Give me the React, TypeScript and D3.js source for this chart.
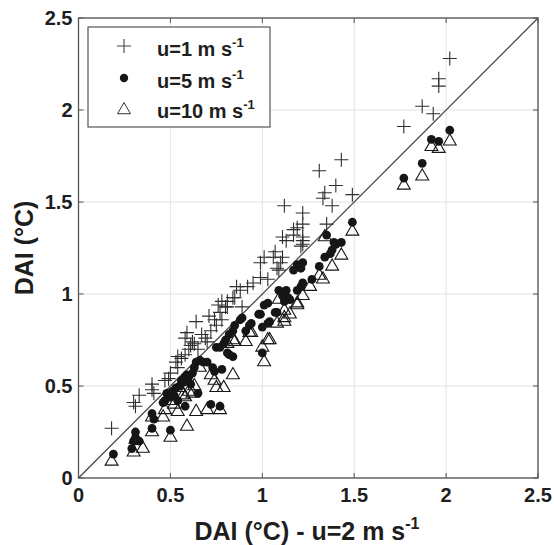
import React from 'react';
import * as d3 from 'd3';

const tickValues = [0, 0.5, 1, 1.5, 2, 2.5];
const tickLabels = ['0', '0.5', '1', '1.5', '2', '2.5'];

const seriesNames = ['u=1 m s', 'u=5 m s', 'u=10 m s'];

// u = 1 m s-1 (plus)
const u1X = [0.18, 0.30, 0.31, 0.33, 0.40, 0.41, 0.47, 0.49, 0.53, 0.54, 0.59, 0.58, 0.64, 0.69, 0.70, 0.65, 0.62, 0.75, 0.78, 0.77, 0.76, 0.78, 0.81, 0.89, 0.85, 0.86, 0.92, 0.95, 0.99, 1.03, 1.08, 1.01, 1.06, 1.11, 1.07, 1.11, 1.17, 1.22, 1.22, 1.19, 1.22, 1.22, 1.12, 1.38, 1.35, 1.49, 1.33, 1.34, 1.40, 1.31, 1.43, 1.77, 1.87, 1.93, 1.96, 1.96, 2.02, 0.61, 0.54, 0.58, 0.50, 0.99, 1.10, 1.09, 1.13, 1.21, 0.80, 0.84, 0.40, 0.81, 0.88, 1.17, 1.22, 0.56, 0.60, 0.63, 0.67, 0.72, 0.71, 0.74];
const u1Y = [0.27, 0.41, 0.39, 0.45, 0.48, 0.46, 0.53, 0.54, 0.63, 0.60, 0.79, 0.76, 0.85, 0.76, 0.74, 0.70, 0.74, 0.83, 0.86, 0.90, 0.94, 0.96, 0.93, 0.93, 0.98, 1.04, 1.04, 1.06, 1.09, 1.08, 1.14, 1.20, 1.20, 1.20, 1.23, 1.31, 1.32, 1.29, 1.27, 1.36, 1.38, 1.44, 1.48, 1.48, 1.38, 1.54, 1.52, 1.55, 1.59, 1.67, 1.73, 1.91, 2.02, 1.98, 2.13, 2.17, 2.28, 0.72, 0.66, 0.67, 0.57, 1.17, 1.17, 1.13, 1.29, 1.26, 0.93, 0.98, 0.51, 0.96, 1.02, 1.35, 1.31, 0.65, 0.70, 0.73, 0.78, 0.80, 0.88, 0.86];

// u = 5 m s-1 (dot)
const u5X = [0.19, 0.29, 0.30, 0.31, 0.33, 0.40, 0.41, 0.40, 0.50, 0.46, 0.48, 0.51, 0.54, 0.58, 0.53, 0.56, 0.59, 0.61, 0.65, 0.64, 0.66, 0.68, 0.70, 0.73, 0.74, 0.78, 0.72, 0.77, 0.75, 0.79, 0.80, 0.81, 0.82, 0.84, 0.84, 0.89, 0.91, 0.94, 0.99, 1.00, 1.04, 1.08, 1.03, 1.09, 1.11, 1.13, 1.15, 1.12, 1.19, 1.21, 1.27, 1.22, 1.17, 1.21, 1.19, 1.22, 1.31, 1.34, 1.37, 1.38, 1.40, 1.43, 1.35, 1.49, 1.39, 1.77, 1.87, 1.92, 1.96, 2.02, 1.03, 1.00, 0.93, 0.88, 0.85, 0.82, 0.77, 1.07, 1.01, 0.98, 1.14, 0.58, 0.47, 0.31, 0.55, 0.57, 0.60, 0.62, 0.63, 0.52, 0.50];
const u5Y = [0.13, 0.16, 0.20, 0.25, 0.20, 0.35, 0.32, 0.27, 0.26, 0.41, 0.46, 0.47, 0.42, 0.39, 0.49, 0.53, 0.56, 0.51, 0.46, 0.63, 0.64, 0.63, 0.63, 0.60, 0.58, 0.59, 0.40, 0.39, 0.71, 0.73, 0.75, 0.68, 0.67, 0.66, 0.80, 0.87, 0.80, 0.84, 0.89, 0.68, 0.85, 0.90, 0.95, 1.02, 0.99, 1.02, 0.97, 0.96, 1.02, 1.04, 1.08, 1.06, 1.13, 1.14, 1.16, 1.17, 1.15, 1.20, 1.22, 1.24, 1.27, 1.28, 1.32, 1.39, 1.28, 1.63, 1.71, 1.84, 1.83, 1.89, 0.84, 0.82, 0.83, 0.86, 0.83, 0.78, 0.71, 0.90, 0.94, 0.89, 0.98, 0.55, 0.42, 0.22, 0.50, 0.52, 0.55, 0.57, 0.60, 0.45, 0.44];

// u = 10 m s-1 (triangle)
const u10X = [0.18, 0.30, 0.35, 0.40, 0.40, 0.50, 0.59, 0.47, 0.54, 0.64, 0.70, 0.77, 0.62, 0.75, 0.79, 0.84, 0.85, 0.91, 0.94, 1.01, 1.00, 1.04, 1.08, 1.12, 1.15, 1.19, 1.22, 1.26, 1.19, 1.33, 1.38, 1.43, 1.34, 1.49, 1.03, 0.93, 0.84, 0.81, 1.77, 1.87, 1.92, 1.96, 2.02, 0.66, 0.72, 0.74, 0.57, 0.50, 0.55, 0.31, 0.46, 1.09, 1.12, 1.31, 1.12, 0.52, 0.58, 0.63, 0.60];
const u10Y = [0.09, 0.14, 0.16, 0.25, 0.33, 0.22, 0.28, 0.37, 0.36, 0.36, 0.37, 0.37, 0.46, 0.49, 0.49, 0.56, 0.74, 0.74, 0.79, 0.63, 0.71, 0.75, 0.84, 0.85, 0.89, 0.94, 0.99, 1.04, 0.95, 1.08, 1.15, 1.21, 1.31, 1.34, 0.75, 0.79, 0.75, 0.73, 1.59, 1.64, 1.80, 1.79, 1.83, 0.60, 0.56, 0.53, 0.45, 0.42, 0.49, 0.21, 0.33, 0.97, 0.91, 1.10, 0.87, 0.40, 0.44, 0.50, 0.47];

const W = 554;
const H = 545;
const FONT = '"Liberation Sans", Arial, Helvetica, sans-serif';

export default function App() {
  const x = d3.scaleLinear().domain([0, 2.5]).range([78.5, 538]);
  const y = d3.scaleLinear().domain([0, 2.5]).range([478, 18]);
  const [x0, x1] = x.range();
  const [y0, y1] = y.range();

  const u1 = u1X.map((v, i) => [v, u1Y[i]]);
  const u5 = u5X.map((v, i) => [v, u5Y[i]]);
  const u10 = u10X.map((v, i) => [v, u10Y[i]]);

  const tri = d3.symbol().type(d3.symbolTriangle).size(72)() as string;
  const plusArm = 7;
  const tickLen = 5;
  const axisColor = '#555';
  const ink = '#161616';

  const diag = d3.line<number>().x((d) => x(d)).y((d) => y(d))([0, 2.5]) as string;

  const plus = (cx: number, cy: number, key: string | number, color = '#2e2e2e') => (
    <path
      key={key}
      d={`M${cx - plusArm},${cy}H${cx + plusArm}M${cx},${cy - plusArm}V${cy + plusArm}`}
      stroke={color}
      strokeWidth={1.1}
      fill="none"
    />
  );

  const legendRows = [46, 78, 110];
  const legendBase = [56, 88, 118];

  return (
    <svg
      width={W}
      height={H}
      style={{ position: 'absolute', left: 0, top: 0, background: '#fff' }}
      fontFamily={FONT}
    >
      <rect x={0} y={0} width={W} height={H} fill="#fff" />
      {tickValues.map((t, i) => (
        <g key={'g' + i}>
          <line x1={x(t)} x2={x(t)} y1={y0} y2={y1} stroke="#e3e3e3" strokeWidth={1} />
          <line x1={x0} x2={x1} y1={y(t)} y2={y(t)} stroke="#e3e3e3" strokeWidth={1} />
        </g>
      ))}
      <path d={diag} stroke="#444" strokeWidth={1.2} fill="none" />
      <g>{u1.map((d, i) => plus(x(d[0]), y(d[1]), 'p' + i))}</g>
      <g>
        {u5.map((d, i) => (
          <circle key={'c' + i} cx={x(d[0])} cy={y(d[1])} r={4.4} fill={ink} />
        ))}
      </g>
      <g>
        {u10.map((d, i) => (
          <path
            key={'t' + i}
            d={tri}
            transform={`translate(${x(d[0])},${y(d[1])})`}
            fill="none"
            stroke={ink}
            strokeWidth={1.1}
          />
        ))}
      </g>
      <rect x={x0} y={y1} width={x1 - x0} height={y0 - y1} fill="none" stroke={axisColor} strokeWidth={1.3} />
      {tickValues.map((t, i) => (
        <g key={'t' + i} stroke={axisColor} strokeWidth={1}>
          <line x1={x(t)} x2={x(t)} y1={y0} y2={y0 - tickLen} />
          <line x1={x(t)} x2={x(t)} y1={y1} y2={y1 + tickLen} />
          <line x1={x0} x2={x0 + tickLen} y1={y(t)} y2={y(t)} />
          <line x1={x1} x2={x1 - tickLen} y1={y(t)} y2={y(t)} />
        </g>
      ))}
      {tickValues.map((t, i) => (
        <text
          key={'xl' + i}
          x={x(t)}
          y={y0 + 24}
          textAnchor="middle"
          fontSize={20}
          fontWeight="bold"
          fill="#1e1e1e"
        >
          {tickLabels[i]}
        </text>
      ))}
      {tickValues.map((t, i) => (
        <text
          key={'yl' + i}
          x={x0 - 6}
          y={y(t) + 7}
          textAnchor="end"
          fontSize={20}
          fontWeight="bold"
          fill="#1e1e1e"
        >
          {tickLabels[i]}
        </text>
      ))}
      <text x={307} y={540} textAnchor="middle" fontSize={25} fontWeight="bold" fill="#1e1e1e">
        DAI (°C) - u=2 m s
        <tspan fontSize={16} dy={-11}>-1</tspan>
      </text>
      <text
        transform={`translate(33,${(y0 + y1) / 2}) rotate(-90)`}
        textAnchor="middle"
        fontSize={25}
        fontWeight="bold"
        fill="#1e1e1e"
      >
        DAI (°C)
      </text>
      <rect x={88} y={27} width={182} height={100} fill="#fff" stroke={axisColor} strokeWidth={1.2} />
      {plus(124, legendRows[0], 'lp', '#444')}
      <circle cx={124} cy={legendRows[1]} r={4.2} fill={ink} />
      <path d={tri} transform={`translate(124,${legendRows[2]})`} fill="none" stroke="#333" strokeWidth={1} />
      {seriesNames.map((s, i) => (
        <text key={'lg' + i} x={157} y={legendBase[i]} fontSize={20} fontWeight="bold" fill="#1e1e1e">
          {s}
          <tspan fontSize={13} dy={-9}>-1</tspan>
        </text>
      ))}
    </svg>
  );
}
